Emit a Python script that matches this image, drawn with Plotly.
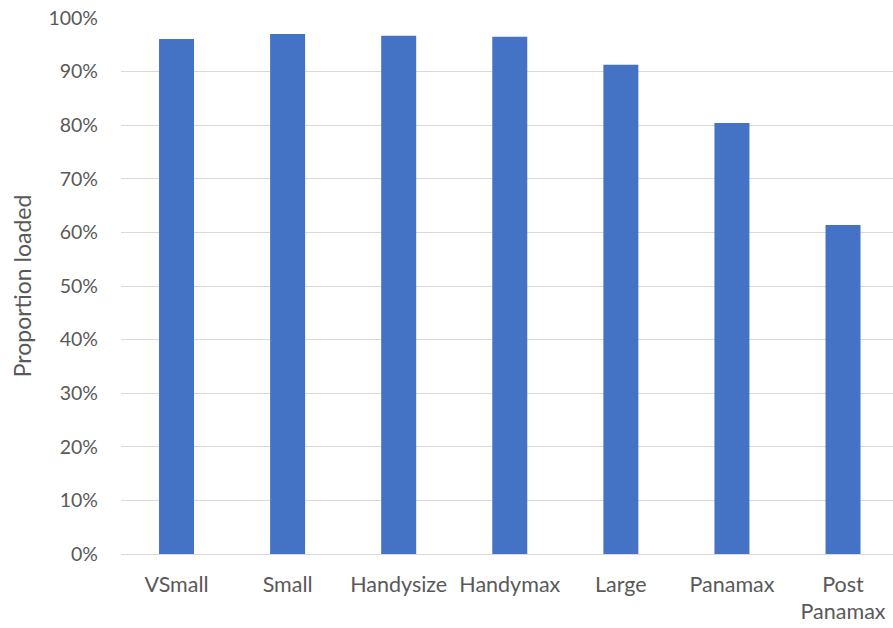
import plotly.graph_objects as go

# Share of each vessel size class that was loaded
categories = ["VSmall", "Small", "Handysize", "Handymax", "Large", "Panamax", "Post<br>Panamax"]
proportion_loaded = [0.961, 0.970, 0.967, 0.965, 0.913, 0.804, 0.614]
y_ticks = [i / 10 for i in range(11)]
y_tick_labels = [f"{i * 10}%" for i in range(11)]

font_family = "Lato, Open Sans, sans-serif"
text_color = "#595959"
grid_color = "#d9d9d9"

fig = go.Figure(
    go.Bar(
        x=list(range(len(categories))),
        y=proportion_loaded,
        marker=dict(color="#4472C4", line=dict(width=0)),
        width=0.315,
    )
)

fig.update_layout(
    width=893,
    height=628,
    margin=dict(l=121, r=0, t=18, b=74),
    paper_bgcolor="white",
    plot_bgcolor="white",
    showlegend=False,
    font=dict(family=font_family, size=20, color=text_color),
    xaxis=dict(
        tickmode="array",
        tickvals=list(range(len(categories))),
        ticktext=categories,
        range=[-0.5, 6.45],
        showgrid=False,
        zeroline=False,
        showline=False,
        ticks="",
        ticklabelstandoff=15,
        tickfont=dict(family=font_family, size=21.5, color=text_color),
    ),
    yaxis=dict(
        range=[0, 1],
        tickmode="array",
        tickvals=y_ticks,
        ticktext=y_tick_labels,
        showgrid=True,
        gridcolor=grid_color,
        gridwidth=1,
        zeroline=True,
        zerolinecolor=grid_color,
        zerolinewidth=1,
        showline=False,
        ticks="",
        ticklabelstandoff=22,
        tickfont=dict(family=font_family, size=19.5, color=text_color),
        title=dict(
            text="Proportion loaded",
            standoff=10,
            font=dict(family=font_family, size=23, color=text_color),
        ),
    ),
)

fig.write_html("out.html")
